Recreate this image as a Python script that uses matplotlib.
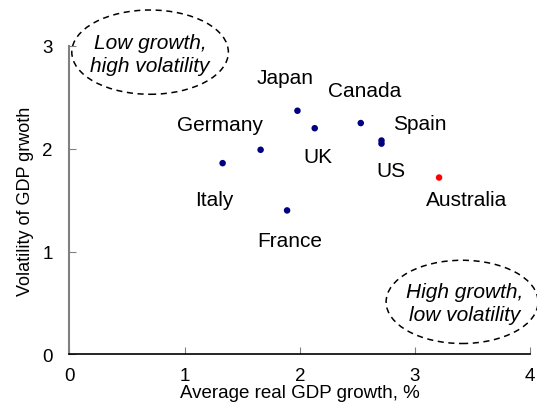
import matplotlib.pyplot as plt
from matplotlib.patches import Ellipse

plt.rcParams['font.family'] = ['Liberation Sans', 'DejaVu Sans']

# data
countries = ["Italy", "Germany", "Japan", "UK", "Canada", "Spain", "US", "France", "Australia"]
growth = [1.33, 1.66, 1.98, 2.13, 2.53, 2.71, 2.71, 1.89, 3.21]
volatility = [1.86, 1.99, 2.37, 2.20, 2.25, 2.08, 2.05, 1.40, 1.72]
colors = ["#000080"] * 8 + ["#ff0000"]

# label positions (data coords)
label_x = [1.26, 1.31, 1.87, 2.16, 2.56, 3.04, 2.79, 1.91, 3.45]
label_y = [1.51, 2.24, 2.69, 1.92, 2.57, 2.25, 1.79, 1.11, 1.51]

fig = plt.figure(figsize=(5.37, 4.14), dpi=100)
ax = fig.add_axes([0.1294, 0.1418, 0.8576, 0.7447])

ax.scatter(growth, volatility, c=colors, s=22, zorder=3, edgecolors="none")
for name, lx, ly in zip(countries, label_x, label_y):
    ax.text(lx, ly, name, ha="center", va="center", fontsize=15)

# quadrant notes
ax.add_patch(Ellipse((0.70, 2.94), 1.36, 0.82, fill=False, ls=(0, (4, 3)),
                     lw=1.1, color="black", clip_on=False))
ax.text(0.70, 2.92, "Low growth,\nhigh volatility", ha="center", va="center",
        fontsize=15, style="italic", linespacing=1.3)
ax.add_patch(Ellipse((3.41, 0.51), 1.32, 0.81, fill=False, ls=(0, (4, 3)),
                     lw=1.1, color="black", clip_on=False))
ax.text(3.43, 0.50, "High growth,\nlow volatility", ha="center", va="center",
        fontsize=15, style="italic", linespacing=1.3)

ax.set_xlim(0, 4)
ax.set_ylim(0, 3)
ax.set_xticks([0, 1, 2, 3, 4])
ax.set_yticks([0, 1, 2, 3])
ax.spines["top"].set_visible(False)
ax.spines["right"].set_visible(False)
ax.spines["left"].set_color("#808080")
ax.spines["left"].set_linewidth(1.5)
ax.spines["bottom"].set_linewidth(1.2)
ax.tick_params(axis="x", direction="in", length=5, labelsize=13.5, pad=9, color="gray")
ax.tick_params(axis="y", direction="in", length=5, labelsize=13.5, pad=12, color="gray")
ax.set_xlabel("Average real GDP growth, %", fontsize=13.5, labelpad=0)
ax.set_ylabel("Volatility of GDP grwoth", fontsize=13, labelpad=6)

fig.savefig("out.png", dpi=100)
